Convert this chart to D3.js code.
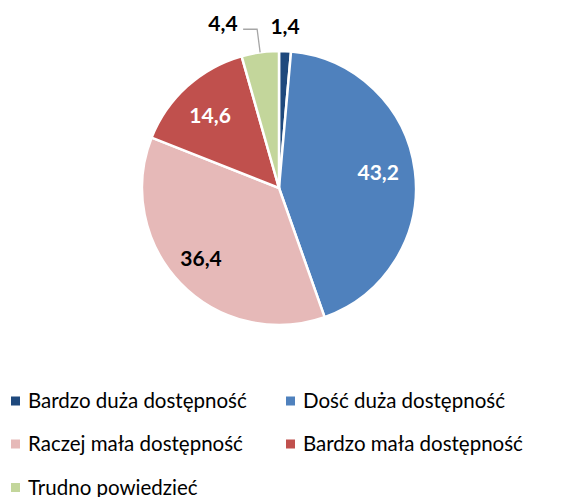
<!DOCTYPE html>
<html><head><meta charset="utf-8">
<script src="https://cdn.jsdelivr.net/npm/d3@7"></script>
<style>body{margin:0;background:#fff}svg{display:block}</style>
</head><body>
<script>
const categories = ["Bardzo duża dostępność","Dość duża dostępność","Raczej mała dostępność","Bardzo mała dostępność","Trudno powiedzieć"];
const values = [1.4, 43.2, 36.4, 14.6, 4.4];
const labels = ["1,4","43,2","36,4","14,6","4,4"];
const colors = ["#1F497D","#4F81BD","#E6B9B8","#C0504D","#C3D69B"];
const labelColors = ["#000","#fff","#000","#fff","#000"];

const W=570,H=497, cx=279, cy=188, R=137;
const svg=d3.select("body").append("svg").attr("width",W).attr("height",H);
const pie=d3.pie().sort(null).value(d=>d)(values);
const arc=d3.arc().innerRadius(0).outerRadius(R);
const g=svg.append("g").attr("transform",`translate(${cx},${cy})`);
g.selectAll("path").data(pie).join("path").attr("d",arc)
 .attr("fill",(d,i)=>colors[i]).attr("stroke","#fff").attr("stroke-width",2.5);

const font="Lato, 'Open Sans', sans-serif";
const rf=[1.17,0.73,0.79,0.75,1.17];
const off=[[-1,-1],[0,-3],[0,-4],[0,4],[-34,-6]];
pie.forEach((d,i)=>{
  const p=d3.arc().innerRadius(R*rf[i]).outerRadius(R*rf[i]).centroid(d);
  g.append("text").attr("x",p[0]+off[i][0]).attr("y",p[1]+off[i][1]).attr("dy","0.35em").attr("text-anchor","middle")
   .attr("font-family",font).attr("font-weight","bold").attr("font-size",21)
   .attr("fill",labelColors[i]).text(labels[i]);
});
// leader line for 4,4
{
  const d=pie[4]; const a=(d.startAngle+d.endAngle)/2;
  const px=Math.sin(a)*R, py=-Math.cos(a)*R;
  const ly=-Math.cos(a)*R*1.17;
  g.append("polyline").attr("points",`${px-17},${ly} ${px-3},${ly} ${px},${py}`)
   .attr("fill","none").attr("stroke","#A6A6A6").attr("stroke-width",1.3);
}
// legend
const leg=svg.append("g");
const pos=[[11,401],[286,401],[11,444],[286,444],[11,487.5]];
categories.forEach((c,i)=>{
  const [x,y]=pos[i];
  leg.append("rect").attr("x",x).attr("y",y-4.5).attr("width",9).attr("height",9).attr("fill",colors[i]);
  leg.append("text").attr("x",x+17).attr("y",y).attr("dy","0.35em").attr("font-family",font)
   .attr("font-size",20.5).attr("fill","#000").text(c);
});
</script>
</body></html>
